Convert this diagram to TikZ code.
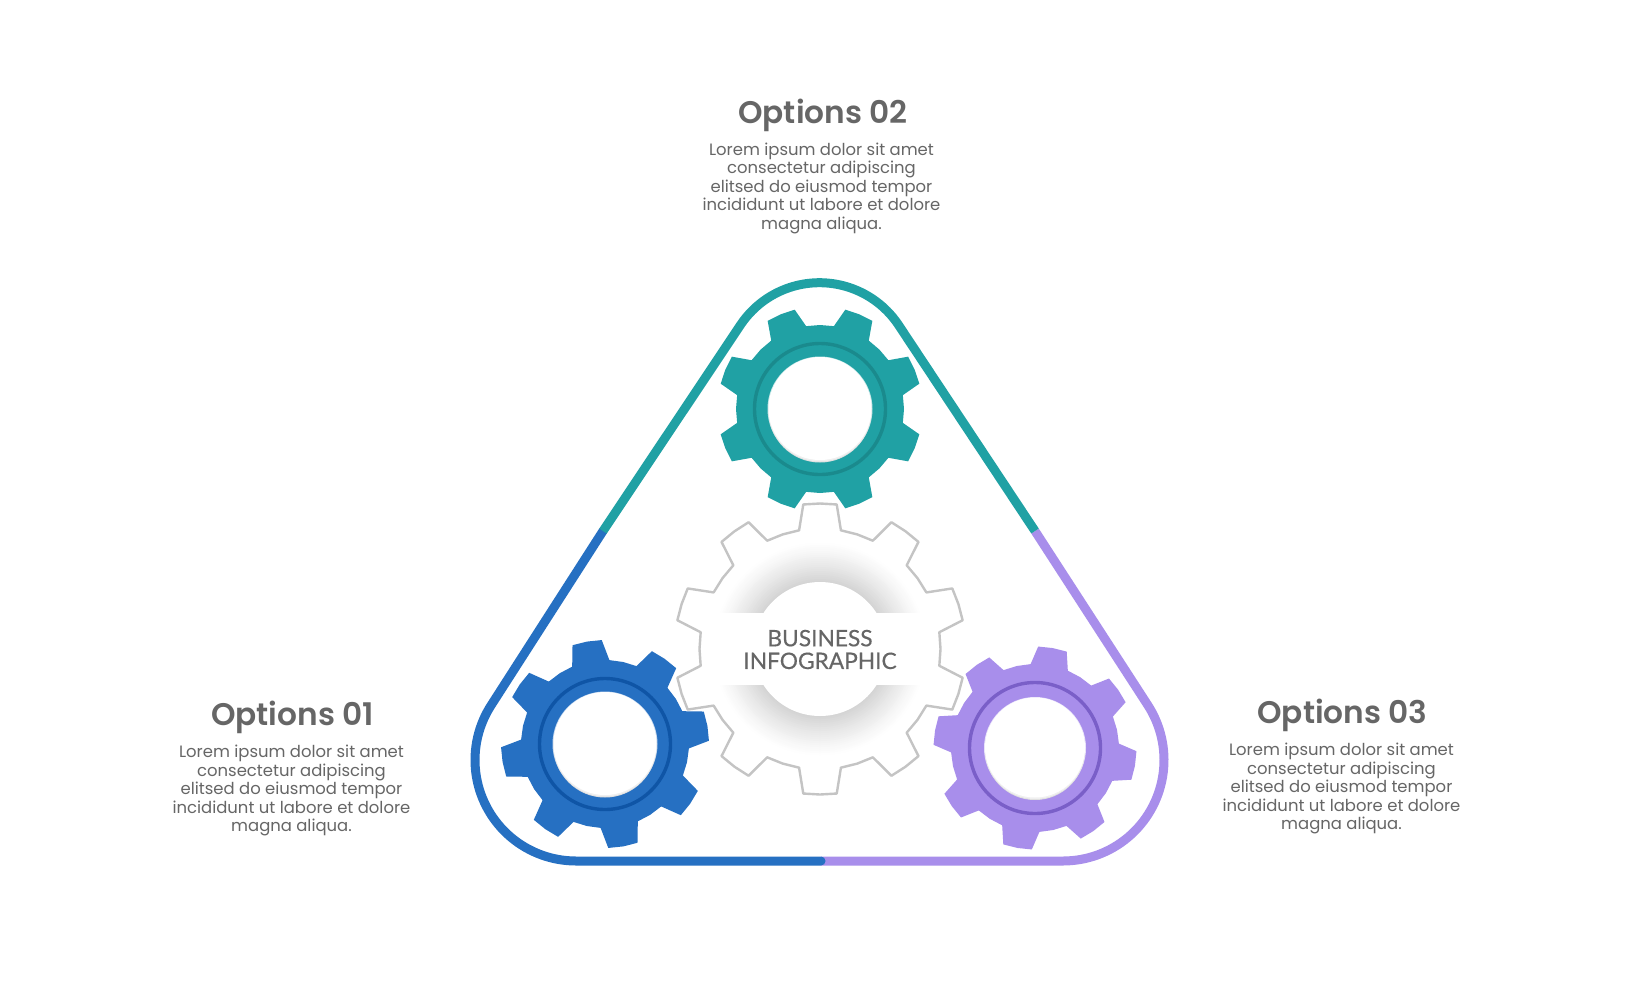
\documentclass[tikz,border=0pt]{standalone}
\usepackage{fontspec}
\setmainfont{Poppins}
\newfontfamily\titlefont{Poppins SemiBold}
\newfontfamily\hubfont[FakeBold=0.35]{Lato}
\definecolor{tealc}{HTML}{20A1A4}
\definecolor{tealr}{HTML}{1A8A8D}
\definecolor{bluec}{HTML}{2670C2}
\definecolor{bluer}{HTML}{0F55A6}
\definecolor{purpc}{HTML}{A88EEB}
\definecolor{purpr}{HTML}{7A5FC8}
\definecolor{txt}{HTML}{666666}
\definecolor{hubline}{HTML}{C4C4C4}
\newcommand{\gearpath}[8]{%
  ({#1+#5*cos(#3-180/#4)},{#2-#5*sin(#3-180/#4)})
  \foreach \k [evaluate=\k as \a using #3+\k*360/#4] in {1,...,#4}{
    -- ({#1+#5*cos(\a-360/#4-#7)},{#2-#5*sin(\a-360/#4-#7)})
    -- ({#1+#6*cos(\a-360/#4-#8)},{#2-#6*sin(\a-360/#4-#8)})
    -- ({#1+#6*cos(\a-360/#4)},{#2-#6*sin(\a-360/#4)})
    -- ({#1+#6*cos(\a-360/#4+#8)},{#2-#6*sin(\a-360/#4+#8)})
    -- ({#1+#5*cos(\a-360/#4+#7)},{#2-#5*sin(\a-360/#4+#7)})
    -- ({#1+#5*cos(\a-180/#4)},{#2-#5*sin(\a-180/#4)})
  } -- cycle
}
\newcommand{\colorgear}[7]{% cx cy rot body ring holeR tipR
  \fill[#4,line join=round] \gearpath{#1}{#2}{#3}{8}{84}{#7}{13}{8.2};
  \draw[#5,line width=1.7pt] (#1,#2) ellipse [x radius=65.5,y radius=65.5];
  \fill[white!75!#4] (#1,#2) ellipse [x radius=#6+1,y radius=#6+1];
  \fill[black!12] (#1,#2+2) ellipse [x radius=#6,y radius=#6];
  \fill[black!6] (#1,#2+1) ellipse [x radius=#6,y radius=#6];
  \fill[white] (#1,#2-0.5) ellipse [x radius=#6,y radius=#6];
}
\tikzset{
  belt/.style={line width=4.5pt,line join=round},
  title/.style={font=\titlefont\fontsize{15.6}{18}\selectfont,text=txt,inner sep=0pt,anchor=center},
  body/.style={font=\fontsize{8.22}{9.25}\selectfont,text=txt,align=center,inner sep=0pt,anchor=center},
}
\begin{document}
\begin{tikzpicture}[x=0.5pt,y=-0.5pt]
\useasboundingbox (0,0) rectangle (1633,980);
\fill[white] (0,0) rectangle (1633,980);
% belt
\coordinate (jl) at (603,531);
\coordinate (jr) at (1035,531);
\coordinate (jb) at (821,861);
\draw[belt,purpc] (jb) -- (1063,861)
  -- plot[domain=90:-33.16,samples=50] ({1063+101*cos(\x)},{760+101*sin(\x)}) -- (jr);
\draw[belt,bluec,line cap=round] (jb) -- (576,861)
  -- plot[domain=90:213.16,samples=50] ({576+101*cos(\x)},{760+101*sin(\x)}) -- (jl);
\draw[belt,tealc] (jl)
  -- plot[domain=213.16:326.84,samples=60] ({819.5+95*cos(\x)},{377.7+95*sin(\x)}) -- (jr);
% centre gear
\foreach \r in {108,106,...,68}{
  \pgfmathsetmacro{\p}{17*((108-\r)/40)^1.2}
  \fill[black!\p!white] (820,649) ellipse [x radius=\r,y radius=\r];
}
\fill[white] (820,649) ellipse [x radius=67,y radius=67];
\fill[white] (700,613) rectangle (940,685);
\draw[hubline,line width=1.2pt,line join=round] \gearpath{820}{649}{90}{10}{120.5}{145.5}{10}{6.6};
% colour gears
\colorgear{820}{409}{67.5}{tealc}{tealr}{51.5}{102.5}
\colorgear{605}{744}{100}{bluec}{bluer}{51.5}{104}
\colorgear{1035}{748}{80}{purpc}{purpr}{50}{101.5}
% texts
\node[font=\hubfont\fontsize{11.35}{11.35}\selectfont,text=txt,align=center,inner sep=0pt] (hub) at (820,649.5) {BUSINESS\\INFOGRAPHIC};
\node[title] (t2) at (823,115) {Options 02};
\node[body] (b2) at (821.5,188) {Lorem ipsum dolor sit amet\\consectetur adipiscing\\elitsed do eiusmod tempor\\incididunt ut labore et dolore\\magna aliqua.};
\node[title] (t1) at (292.5,717) {Options 01};
\node[body] (b1) at (291.5,790.5) {Lorem ipsum dolor sit amet\\consectetur adipiscing\\elitsed do eiusmod tempor\\incididunt ut labore et dolore\\magna aliqua.};
\node[title] (t3) at (1342.5,715) {Options 03};
\node[body] (b3) at (1341.5,788.5) {Lorem ipsum dolor sit amet\\consectetur adipiscing\\elitsed do eiusmod tempor\\incididunt ut labore et dolore\\magna aliqua.};
\end{tikzpicture}
\end{document}
